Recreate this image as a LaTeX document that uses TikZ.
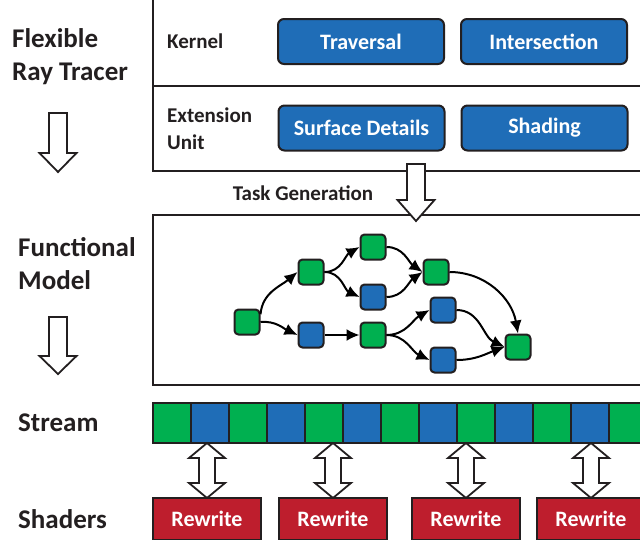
\documentclass[tikz,border=0pt]{standalone}
\usepackage{fontspec}
\setmainfont{Carlito}
\usetikzlibrary{arrows.meta}
\definecolor{dk}{HTML}{231F20}
\definecolor{bl}{HTML}{1F6DB7}
\definecolor{gr}{HTML}{00B050}
\definecolor{rd}{HTML}{BE1E2D}
% hollow down arrow: x, shaft top, head start, tip
\newcommand\hollowdownarrow[4]{%
  \filldraw[hollow] ({#1-9},#2) -- ({#1+9},#2) -- ({#1+9},#3) -- ({#1+18.5},#3) -- (#1,#4)
    -- ({#1-18.5},#3) -- ({#1-9},#3) -- cycle;}
% hollow double arrow: x, top, bottom
\newcommand\hollowbiarrow[3]{%
  \filldraw[hollow] (#1,#2) -- ({#1+18},{#2+15}) -- ({#1+8},{#2+15}) -- ({#1+8},{#3-15})
    -- ({#1+18},{#3-15}) -- (#1,#3) -- ({#1-18},{#3-15}) -- ({#1-8},{#3-15})
    -- ({#1-8},{#2+15}) -- ({#1-18},{#2+15}) -- cycle;}
\begin{document}
\begin{tikzpicture}[x=1pt,y=-1pt,
  frame/.style={draw=dk,line width=2pt},
  btn/.style={draw=dk,line width=2pt,fill=bl,rounded corners=6pt,text=white,
    font=\bfseries\fontsize{22}{26}\selectfont,minimum width=166pt,minimum height=45pt,inner sep=0},
  task/.style={draw=dk,line width=2pt,rounded corners=4pt,minimum size=25pt,inner sep=0},
  gn/.style={task,fill=gr},
  bn/.style={task,fill=bl},
  edge/.style={line width=2pt,draw=black,-{Latex[length=13pt,width=12pt]}},
  rw/.style={draw=dk,line width=2pt,fill=rd,text=white,
    font=\bfseries\fontsize{22}{26}\selectfont,minimum width=108pt,minimum height=42pt,inner sep=0},
  hollow/.style={draw=dk,line width=1.8pt,fill=white,line join=miter},
  lbl/.style={text=dk,font=\bfseries\fontsize{27}{33}\selectfont,inner sep=0,align=left},
  sub/.style={text=dk,font=\bfseries\fontsize{21}{27}\selectfont,inner sep=0,align=left},
  cell/.style={draw=dk,line width=2.5pt}
]
\useasboundingbox (0,0) rectangle (640,539);
\clip (0,0) rectangle (640,539);

% left labels
\node[lbl,anchor=base west] (lfrt) at (12,80) {Flexible\\Ray Tracer};
\node[lbl,anchor=base west] (lfm) at (18,289) {Functional\\Model};
\node[lbl,anchor=base west] (lst) at (18,431) {Stream};
\node[lbl,anchor=base west] (lsh) at (18,528) {Shaders};
\hollowdownarrow{58}{113}{153}{172}
\hollowdownarrow{58}{317}{356}{374}

% flexible ray tracer box
\draw[frame] (153,-5) rectangle (665,171);
\draw[frame] (153,86) -- (665,86);
\node[sub,anchor=west] (kern) at (167,41) {Kernel};
\node[sub,anchor=west] (ext) at (167,129) {Extension\\Unit};
\node[btn] (trav) at (361,41.5) {Traversal};
\node[btn] (inter) at (544,41.5) {Intersection};
\node[btn] (surf) at (361.5,128) {Surface Details};
\node[btn] (shad) at (544.5,128) {Shading};

% task generation
\node[sub,anchor=center] (tg) at (303,193) {Task Generation};
\draw[frame] (153,215) rectangle (665,385);
\hollowdownarrow{416}{164}{200}{221}

% graph
\node[gn] (n1) at (247,322) {};
\node[gn] (n2) at (311,272) {};
\node[bn] (n3) at (311,335) {};
\node[gn] (n4) at (373,247) {};
\node[bn] (n5) at (373,297) {};
\node[gn] (n6) at (373,335) {};
\node[gn] (n7) at (436,272) {};
\node[bn] (n8) at (443,310) {};
\node[bn] (n9) at (443,360) {};
\node[gn] (n10) at (518,347) {};
\draw[edge] (n1.30) to[out=85,in=220] (n2.west);
\draw[edge] (n1.east) to[out=5,in=155] (n3.west);
\draw[edge] (n3.east) -- (n6.west);
\draw[edge] (n2.east) to[out=0,in=210] (n4.west);
\draw[edge] (n2.east) to[out=0,in=155] (n5.west);
\draw[edge] (n4.east) to[out=0,in=145] (n7.west);
\draw[edge] (n5.east) to[out=0,in=215] (n7.west);
\draw[edge] (n6.east) to[out=0,in=210] (n8.west);
\draw[edge] (n6.east) to[out=0,in=155] (n9.west);
\draw[edge] (n7.east) to[out=0,in=100] (n10.north);
\draw[edge] (n8.east) to[out=0,in=155] (n10.west);
\draw[edge] (n9.east) to[out=0,in=200] (n10.west);

% stream
\foreach \k in {0,...,12}{
  \pgfmathsetmacro\xx{153+38*\k}
  \pgfmathtruncatemacro\cpar{mod(\k,2)}
  \ifnum\cpar=0 \def\cc{gr}\else\def\cc{bl}\fi
  \filldraw[cell,fill=\cc] (\xx,403) rectangle ({\xx+38},443);
}

% shaders
\hollowbiarrow{207}{443}{498}
\hollowbiarrow{333}{443}{498}
\hollowbiarrow{466}{443}{498}
\hollowbiarrow{591}{443}{498}
\node[rw] (r1) at (207,519) {Rewrite};
\node[rw] (r2) at (333,519) {Rewrite};
\node[rw] (r3) at (466,519) {Rewrite};
\node[rw] (r4) at (591,519) {Rewrite};
\end{tikzpicture}
\end{document}
